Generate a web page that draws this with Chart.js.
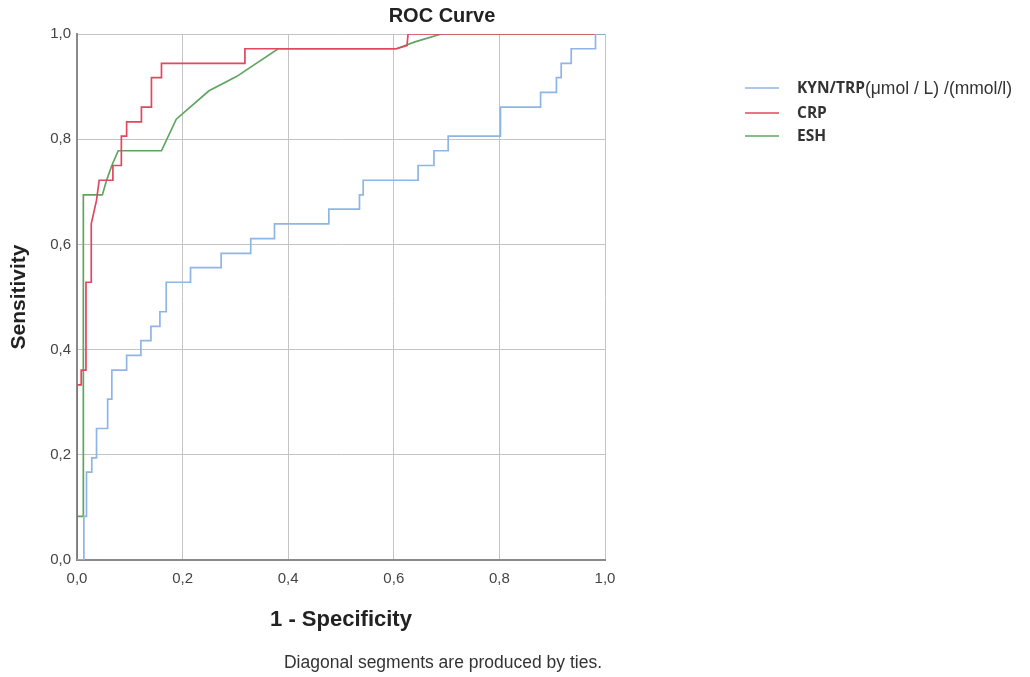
<!DOCTYPE html>
<html>
<head>
<meta charset="utf-8">
<script src="https://cdn.jsdelivr.net/npm/chart.js@4.4.1/dist/chart.umd.min.js"></script>
<style>
html,body{margin:0;padding:0;background:#fff;}
#wrap{width:1030px;height:677px;position:relative;}
</style>
</head>
<body>
<div id="wrap"><canvas id="c" width="1030" height="677"></canvas></div>
<script>
// ---- data ----
const chartTitle = "ROC Curve";
const xAxisTitle = "1 - Specificity";
const yAxisTitle = "Sensitivity";
const footnote = "Diagonal segments are produced by ties.";
const tickValues = [0, 0.2, 0.4, 0.6, 0.8, 1.0];
const seriesNames = ["KYN/TRP", "CRP", "ESH"];
const seriesUnits = ["(\u03bcmol / L) /(mmol/l)", "", ""];
const seriesColors = ["#8fb5e6", "#e2475f", "#5fa55f"];

const kynX = [0, 0.013, 0.013, 0.018, 0.018, 0.028, 0.028, 0.037, 0.037, 0.058, 0.058, 0.066, 0.066, 0.094, 0.094, 0.121, 0.121, 0.140, 0.140, 0.157, 0.157, 0.169, 0.169, 0.215, 0.215, 0.273, 0.273, 0.329, 0.329, 0.374, 0.374, 0.477, 0.477, 0.535, 0.535, 0.542, 0.542, 0.646, 0.646, 0.676, 0.676, 0.703, 0.703, 0.802, 0.802, 0.878, 0.878, 0.908, 0.908, 0.917, 0.917, 0.936, 0.936, 0.982, 0.982, 1.0];
const kynY = [0, 0, 0.083, 0.083, 0.167, 0.167, 0.194, 0.194, 0.250, 0.250, 0.306, 0.306, 0.361, 0.361, 0.389, 0.389, 0.417, 0.417, 0.444, 0.444, 0.472, 0.472, 0.528, 0.528, 0.556, 0.556, 0.583, 0.583, 0.611, 0.611, 0.639, 0.639, 0.667, 0.667, 0.694, 0.694, 0.722, 0.722, 0.750, 0.750, 0.778, 0.778, 0.806, 0.806, 0.861, 0.861, 0.889, 0.889, 0.917, 0.917, 0.944, 0.944, 0.972, 0.972, 1.0, 1.0];

const crpX = [0, 0, 0.008, 0.008, 0.017, 0.017, 0.027, 0.027, 0.037, 0.042, 0.068, 0.068, 0.084, 0.084, 0.094, 0.094, 0.122, 0.122, 0.141, 0.141, 0.160, 0.160, 0.318, 0.318, 0.605, 0.625, 0.627, 1.0];
const crpY = [0, 0.333, 0.333, 0.361, 0.361, 0.528, 0.528, 0.639, 0.684, 0.722, 0.722, 0.750, 0.750, 0.806, 0.806, 0.833, 0.833, 0.861, 0.861, 0.917, 0.917, 0.944, 0.944, 0.972, 0.972, 0.978, 1.0, 1.0];

const eshX = [0, 0, 0.012, 0.012, 0.048, 0.056, 0.066, 0.078, 0.160, 0.188, 0.250, 0.302, 0.381, 0.605, 0.640, 0.690, 1.0];
const eshY = [0, 0.083, 0.083, 0.694, 0.694, 0.722, 0.750, 0.778, 0.778, 0.838, 0.892, 0.919, 0.972, 0.972, 0.985, 1.0, 1.0];

function pts(xs, ys){ return xs.map((x,i)=>({x:x, y:ys[i]})); }
const fmt = v => v.toFixed(1).replace('.', ',');

const AREA = {left:77, top:34, right:605, bottom:560};

const textPlugin = {
  id:'texts',
  afterDraw(chart){
    const ctx = chart.ctx;
    const ca = chart.chartArea;
    ctx.save();
    ctx.fillStyle = '#222';
    ctx.textBaseline = 'middle';
    // title
    ctx.font = 'bold 20px "Liberation Sans", Arial, sans-serif';
    ctx.textAlign = 'center';
    ctx.fillText(chartTitle, 442, 16);
    // x title
    ctx.font = 'bold 22px "Liberation Sans", Arial, sans-serif';
    ctx.fillText(xAxisTitle, 341, 620);
    // y title
    ctx.save();
    ctx.translate(19, (ca.top+ca.bottom)/2);
    ctx.rotate(-Math.PI/2);
    ctx.font = 'bold 21px "Liberation Sans", Arial, sans-serif';
    ctx.fillText(yAxisTitle, 0, 0);
    ctx.restore();
    // footnote
    ctx.font = '17.5px "Liberation Sans", Arial, sans-serif';
    ctx.fillStyle = '#333';
    ctx.fillText(footnote, 443, 663);
    // legend
    const rows = [88, 113, 136];
    ctx.textAlign = 'left';
    seriesNames.forEach((n,i)=>{
      const y = rows[i];
      ctx.strokeStyle = seriesColors[i];
      ctx.lineWidth = 1.6;
      ctx.beginPath(); ctx.moveTo(745, y); ctx.lineTo(779, y); ctx.stroke();
      ctx.fillStyle = '#333';
      ctx.font = 'bold 15.5px "Open Sans", "DejaVu Sans", sans-serif';
      ctx.fillText(n, 797, y + 1);
      const w = ctx.measureText(n).width;
      if (seriesUnits[i]) {
        ctx.font = '17.5px "Liberation Sans", Arial, sans-serif';
        ctx.fillText(seriesUnits[i], 797 + w, y + 1);
      }
    });
    ctx.restore();
  }
};

new Chart(document.getElementById('c'), {
  type: 'scatter',
  data: {
    datasets: [
      {label: seriesNames[0], data: pts(kynX, kynY), borderColor: seriesColors[0]},
      {label: seriesNames[1], data: pts(crpX, crpY), borderColor: seriesColors[1]},
      {label: seriesNames[2], data: pts(eshX, eshY), borderColor: seriesColors[2]}
    ].map(d => Object.assign(d, {showLine:true, pointRadius:0, borderWidth:1.7, tension:0, fill:false}))
  },
  options: {
    responsive: false,
    animation: false,
    layout: {padding: {left: 0, top: AREA.top, right: 1030 - AREA.right, bottom: 0}},
    plugins: {legend: {display:false}, title: {display:false}, tooltip: {enabled:false}},
    scales: {
      x: {
        type: 'linear', min: 0, max: 1,
        afterBuildTicks: s => { s.ticks = tickValues.map(v => ({value:v})); },
        afterFit: s => { s.height = 677 - AREA.bottom; },
        ticks: {callback: fmt, padding: 10, color: '#444', font: {family: '"Liberation Sans", Arial, sans-serif', size: 15}, maxRotation: 0},
        grid: {color: '#c4c4c4', lineWidth: 1, drawTicks: false},
        border: {color: '#8a8a8a', width: 2}
      },
      y: {
        type: 'linear', min: 0, max: 1,
        afterBuildTicks: s => { s.ticks = tickValues.map(v => ({value:v})); },
        afterFit: s => { s.width = AREA.left; },
        ticks: {callback: fmt, padding: 6, color: '#444', font: {family: '"Liberation Sans", Arial, sans-serif', size: 15}},
        grid: {color: '#c4c4c4', lineWidth: 1, drawTicks: false},
        border: {color: '#8a8a8a', width: 2}
      }
    }
  },
  plugins: [textPlugin]
});
</script>
</body>
</html>
